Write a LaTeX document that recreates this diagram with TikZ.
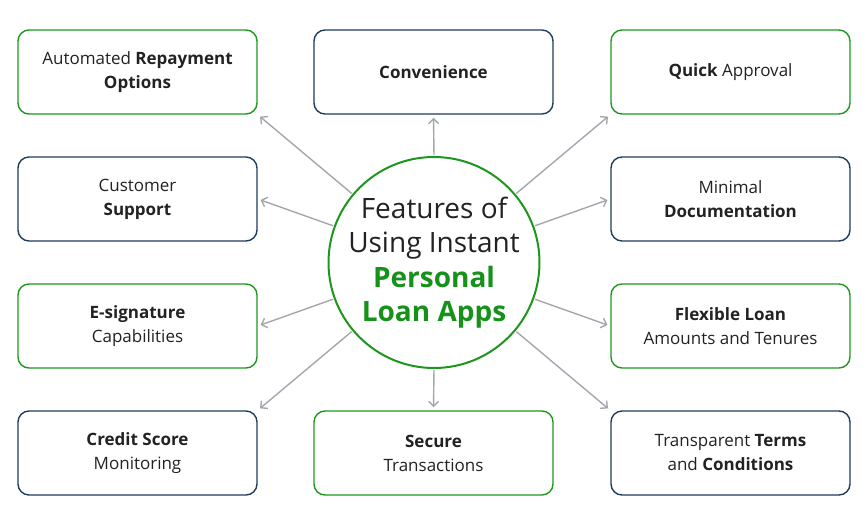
\documentclass[tikz,border=0pt]{standalone}
\usepackage{fontspec}
\setmainfont{Open Sans}
\usetikzlibrary{arrows.meta}
\definecolor{gbox}{HTML}{1E961E}
\definecolor{nbox}{HTML}{1F3B5E}
\definecolor{gtext}{HTML}{16911A}
\definecolor{dtext}{HTML}{222222}
\definecolor{arr}{HTML}{A3A7AD}
\tikzset{
  box/.style={draw, line width=1.4pt, rounded corners=11pt, minimum width=239pt, minimum height=84pt, align=center, font=\fontsize{17}{24}\selectfont, text=dtext, inner sep=0pt},
  gb/.style={box, draw=gbox},
  nb/.style={box, draw=nbox},
  conn/.style={draw=arr, line width=1.4pt, -{Straight Barb[length=5pt,width=10pt]}, shorten <=1pt, shorten >=3pt}
}
\begin{document}
\begin{tikzpicture}[x=1pt,y=-1pt]
\useasboundingbox (0,0) rectangle (868,523);
% boxes (centers)
\node[gb] (auto) at (137.5,72) {Automated \textbf{Repayment}\\\textbf{Options}};
\node[nb] (conv) at (433.5,72) {\textbf{Convenience}};
\node[gb] (quick) at (730.5,72) {\textbf{Quick} Approval};
\node[nb] (cust) at (137.5,199) {Customer\\\textbf{Support}};
\node[nb] (mini) at (730.5,199) {Minimal\\\textbf{Documentation}};
\node[gb] (esig) at (137.5,326) {\textbf{E-signature}\\Capabilities};
\node[gb] (flex) at (730.5,326) {\textbf{Flexible Loan}\\Amounts and Tenures};
\node[nb] (cred) at (137.5,453) {\textbf{Credit Score}\\Monitoring};
\node[gb] (sec) at (433.5,453) {\textbf{Secure}\\Transactions};
\node[nb] (trans) at (730.5,453) {Transparent \textbf{Terms}\\and \textbf{Conditions}};
% center circle
\node[draw=gbox, line width=2pt, circle, minimum size=211pt, inner sep=0pt] (c) at (434,262.5) {};
\node[align=center, text=dtext, font=\fontsize{28}{34.5}\selectfont, inner sep=0pt] (ct) at (c.center)
  {Features of\\Using Instant\\{\color{gtext}\bfseries Personal}\\{\color{gtext}\bfseries Loan Apps}};
% connectors
\draw[conn] (c.140) -- (auto.south east);
\draw[conn] (c.90) -- (conv.south);
\draw[conn] (c.40) -- (quick.south west);
\draw[conn] (c.160) -- (cust.east);
\draw[conn] (c.20) -- (mini.west);
\draw[conn] (c.200) -- (esig.east);
\draw[conn] (c.-20) -- (flex.west);
\draw[conn] (c.220) -- (cred.north east);
\draw[conn] (c.270) -- (sec.north);
\draw[conn] (c.-40) -- (trans.north west);
\end{tikzpicture}
\end{document}
